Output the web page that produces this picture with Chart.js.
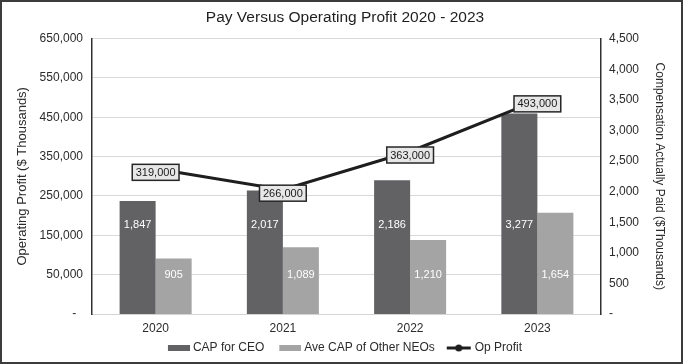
<!DOCTYPE html>
<html>
<head>
<meta charset="utf-8">
<title>Pay Versus Operating Profit 2020 - 2023</title>
<script src="https://cdn.jsdelivr.net/npm/chart.js@4.4.1/dist/chart.umd.min.js"></script>
<style>
  html, body { margin: 0; padding: 0; background: #fff; }
  canvas { display: block; }
</style>
</head>
<body>
<canvas id="payChart" width="683" height="364"></canvas>
<script>
// Chart data
const years = ['2020', '2021', '2022', '2023'];
const capForCeo = [1847, 2017, 2186, 3277];
const aveCapNeos = [905, 1089, 1210, 1654];
const opProfit = [319000, 266000, 363000, 493000];

// Axis ranges (left: operating profit, right: CAP)
const profitTicks = { min: -50000, max: 650000, step: 100000 };
const capTicks = { min: 0, max: 4500, step: 500 };

const CEO_COLOR = '#626264';
const NEO_COLOR = '#a4a4a4';
const LINE_COLOR = '#1e1e1e';
const TEXT_COLOR = '#2b2b2b';
const FONT = 'Arial, "Liberation Sans", Helvetica, sans-serif';

function fmt(v) {
    return Math.round(v).toLocaleString('en-US');
}

// Legend markers drawn on small canvases (transparent margins give the spacing)
function swatch(color) {
    const c = document.createElement('canvas');
    c.width = 30; c.height = 6;
    const g = c.getContext('2d');
    g.fillStyle = color;
    g.fillRect(8, 0, 22, 6);
    return c;
}

function lineMarker() {
    const c = document.createElement('canvas');
    c.width = 30; c.height = 8;
    const g = c.getContext('2d');
    g.strokeStyle = LINE_COLOR;
    g.lineWidth = 3;
    g.beginPath();
    g.moveTo(5, 4); g.lineTo(29, 4);
    g.stroke();
    g.fillStyle = LINE_COLOR;
    g.beginPath();
    g.arc(17, 4, 3.5, 0, Math.PI * 2);
    g.fill();
    return c;
}

// White background and outer frame; title and legend centred over the plot area
const framePlugin = {
    id: 'frame',
    afterLayout(chart) {
        if (chart.legend) chart.legend.left += 2;
        if (chart.titleBlock) chart.titleBlock.left += 7;
    },
    beforeDraw(chart) {
        const ctx = chart.ctx;
        ctx.save();
        ctx.fillStyle = '#ffffff';
        ctx.fillRect(0, 0, chart.width, chart.height);
        ctx.restore();
    },
    afterDraw(chart) {
        const ctx = chart.ctx;
        ctx.save();
        ctx.strokeStyle = '#3c3c3c';
        ctx.lineWidth = 2;
        ctx.strokeRect(1, 1, chart.width - 2, chart.height - 2);
        ctx.restore();
    }
};

// Value labels: white text in bars, boxed labels on the line
const valueLabels = {
    id: 'valueLabels',
    afterDatasetsDraw(chart, args, opts) {
        const ctx = chart.ctx;
        const y1 = chart.scales.y1;
        ctx.save();
        ctx.font = '11px ' + FONT;
        ctx.textAlign = 'center';
        ctx.textBaseline = 'middle';

        // bar labels sit at a fixed level on the CAP axis
        [[1, opts.ceoLevel], [2, opts.neoLevel]].forEach(function(pair) {
            const meta = chart.getDatasetMeta(pair[0]);
            const data = chart.data.datasets[pair[0]].data;
            meta.data.forEach(function(bar, i) {
                ctx.fillStyle = '#ffffff';
                ctx.fillText(fmt(data[i]), bar.x, y1.getPixelForValue(pair[1]));
            });
        });

        // line labels in grey boxes
        const lineMeta = chart.getDatasetMeta(0);
        const lineData = chart.data.datasets[0].data;
        lineMeta.data.forEach(function(pt, i) {
            const text = fmt(lineData[i]);
            const w = ctx.measureText(text).width + 7;
            const h = 16;
            const cx = pt.x;
            const cy = pt.y + opts.lineOffset;
            ctx.fillStyle = '#e7e7e7';
            ctx.fillRect(cx - w / 2, cy - h / 2, w, h);
            ctx.strokeStyle = '#262626';
            ctx.lineWidth = 1.5;
            ctx.strokeRect(cx - w / 2, cy - h / 2, w, h);
            ctx.fillStyle = '#1a1a1a';
            ctx.fillText(text, cx, cy + 0.5);
        });
        ctx.restore();
    }
};

// fixed widths for the value axes, no extra label padding
function fixWidth(w) {
    return function(scale) {
        scale.width = w;
        scale.paddingTop = 0;
        scale.paddingBottom = 0;
    };
}

document.addEventListener('DOMContentLoaded', function() {
    const canvas = document.getElementById('payChart');

    new Chart(canvas, {
        data: {
            labels: years,
            datasets: [
                {
                    type: 'line',
                    label: 'Op Profit',
                    data: opProfit,
                    yAxisID: 'y',
                    borderColor: LINE_COLOR,
                    backgroundColor: LINE_COLOR,
                    borderWidth: 3,
                    pointRadius: 0,
                    tension: 0
                },
                {
                    type: 'bar',
                    label: 'CAP for CEO',
                    data: capForCeo,
                    yAxisID: 'y1',
                    backgroundColor: CEO_COLOR,
                    borderWidth: 0,
                    barPercentage: 1,
                    categoryPercentage: 0.566
                },
                {
                    type: 'bar',
                    label: 'Ave CAP of Other NEOs',
                    data: aveCapNeos,
                    yAxisID: 'y1',
                    backgroundColor: NEO_COLOR,
                    borderWidth: 0,
                    barPercentage: 1,
                    categoryPercentage: 0.566
                }
            ]
        },
        options: {
            responsive: false,
            animation: false,
            layout: { padding: 0 },
            font: { family: FONT },
            scales: {
                x: {
                    grid: { display: false, drawTicks: false },
                    border: { color: '#d4d4d4', width: 1 },
                    ticks: { color: TEXT_COLOR, font: { size: 12, family: FONT }, padding: 7 },
                    afterFit: function(scale) { scale.height = 18; }
                },
                y: {
                    position: 'left',
                    min: profitTicks.min,
                    max: profitTicks.max,
                    grid: { color: '#d9d9d9', lineWidth: 1, drawTicks: false },
                    border: { color: '#303030', width: 1.5 },
                    ticks: {
                        stepSize: profitTicks.step,
                        color: TEXT_COLOR,
                        font: { size: 12, family: FONT },
                        padding: 9,
                        callback: function(v) { return v <= 0 ? '-  ' : fmt(v); }
                    },
                    title: {
                        display: true,
                        text: 'Operating Profit ($ Thousands)',
                        color: TEXT_COLOR,
                        font: { size: 13, family: FONT },
                        padding: { top: 15, bottom: 0 }
                    },
                    afterFit: fixWidth(92)
                },
                y1: {
                    position: 'right',
                    min: capTicks.min,
                    max: capTicks.max,
                    grid: { display: false, drawTicks: false },
                    border: { color: '#303030', width: 1.5 },
                    ticks: {
                        stepSize: capTicks.step,
                        color: TEXT_COLOR,
                        font: { size: 12, family: FONT },
                        padding: 8,
                        callback: function(v) { return v === 0 ? '-' : fmt(v); }
                    },
                    title: {
                        display: true,
                        text: 'Compensation Actually Paid ($Thousands)',
                        color: TEXT_COLOR,
                        font: { size: 12, family: FONT },
                        padding: { top: 16, bottom: 0 }
                    },
                    afterFit: fixWidth(82)
                }
            },
            plugins: {
                title: {
                    display: true,
                    text: 'Pay Versus Operating Profit 2020 - 2023',
                    color: '#1f1f1f',
                    font: { size: 15.5, weight: 'normal', family: FONT },
                    padding: { top: 8, bottom: 12 }
                },
                legend: {
                    position: 'bottom',
                    labels: {
                        usePointStyle: true,
                        pointStyleWidth: 24,
                        boxHeight: 8,
                        padding: 10,
                        color: TEXT_COLOR,
                        font: { size: 12, family: FONT },
                        generateLabels: function() {
                            return [
                                { text: 'CAP for CEO', pointStyle: swatch(CEO_COLOR), datasetIndex: 1, lineWidth: 0, fontColor: TEXT_COLOR },
                                { text: 'Ave CAP of Other NEOs', pointStyle: swatch(NEO_COLOR), datasetIndex: 2, lineWidth: 0, fontColor: TEXT_COLOR },
                                { text: 'Op Profit', pointStyle: lineMarker(), datasetIndex: 0, lineWidth: 0, fontColor: TEXT_COLOR }
                            ];
                        }
                    }
                },
                tooltip: { enabled: false },
                valueLabels: { ceoLevel: 1450, neoLevel: 630, lineOffset: 3.5 }
            }
        },
        plugins: [framePlugin, valueLabels]
    });
});
</script>
</body>
</html>
